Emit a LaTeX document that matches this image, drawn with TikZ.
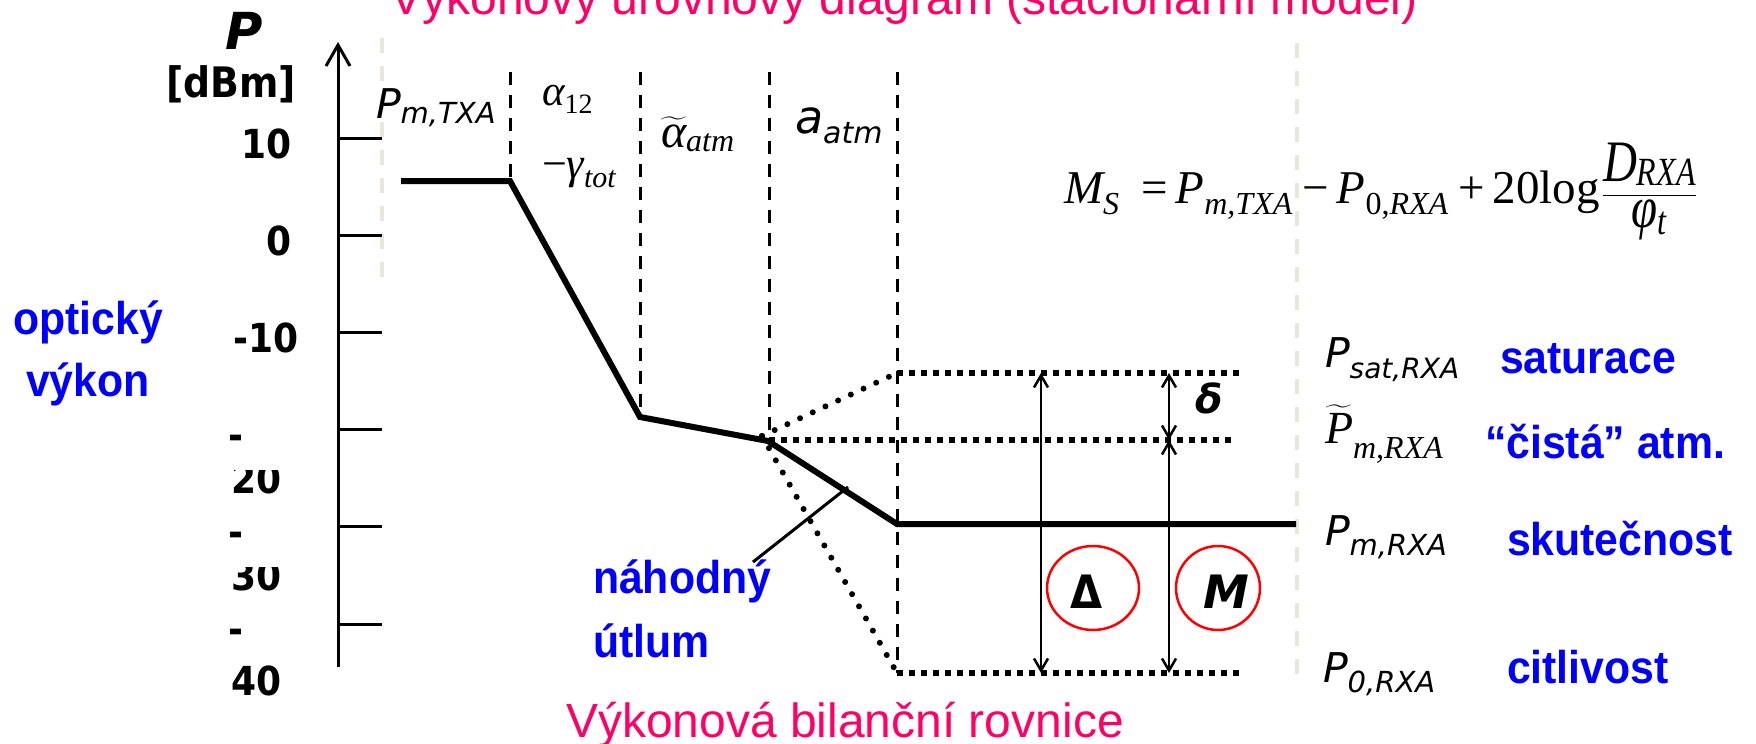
\documentclass[tikz,border=0pt]{standalone}
\usepackage{fontspec}
\usepackage{amsmath}
\usepackage{graphicx}
\usetikzlibrary{arrows.meta}
\setmainfont{Liberation Sans}
\newfontfamily\arialc{Liberation Sans}[FakeStretch=0.93]
\newfontfamily\dvb{DejaVu Sans Bold}[FakeStretch=0.9]
\newfontfamily\dvbo{DejaVu Sans Bold Oblique}
\newfontfamily\dvo{DejaVu Sans Oblique}
\newfontfamily\tnr{Liberation Serif}
\definecolor{myblue}{RGB}{0,0,255}
\definecolor{mymag}{RGB}{255,0,102}
\definecolor{lightline}{RGB}{234,230,218}
\newcommand\fsub[2]{\raisebox{-#1pt}{\fontsize{32}{32}\selectfont #2}}
\begin{document}
\begin{tikzpicture}[x=1pt,y=-1pt,
  lbl/.style={inner sep=0pt, outer sep=0pt},
  ax/.style={line width=3pt},
  heavy/.style={line width=6pt},
  vdash/.style={line width=3pt, dash pattern=on 13pt off 10pt},
  lightdash/.style={line width=4pt, draw=lightline, dash pattern=on 15pt off 13pt},
  hdot/.style={line width=6pt, dash pattern=on 6pt off 6pt},
  sdot/.style={line width=6pt, line cap=round, dash pattern=on 0pt off 14pt},
  meas/.style={line width=2.5pt, {Straight Barb[length=12pt,width=14pt]}-{Straight Barb[length=12pt,width=14pt]}},
  blu/.style={lbl, text=myblue, font={\arialc\bfseries\fontsize{46}{46}\selectfont}},
  tit/.style={lbl, text=mymag, font={\fontsize{48}{48}\selectfont}},
  tk/.style={lbl, font={\dvb\fontsize{40}{40}\selectfont}},
  circ/.style={draw=red, line width=2.5pt}]
\fill[white] (0,0) rectangle (1756,744);
\useasboundingbox (0,0) rectangle (1756,744);

% titles
\node[tit, anchor=base] (title) at (904,14) {Výkonový úrovňový diagram (stacionární model)};
\node[tit, anchor=base] (bottomtitle) at (845,737) {Výkonová bilanční rovnice};

% light dashed guides
\coordinate (g1t) at (382,38); \coordinate (g1b) at (382,279);
\coordinate (g2t) at (1297,43); \coordinate (g2b) at (1297,683);
\draw[lightdash] (g1t) -- (g1b);
\draw[lightdash] (g2t) -- (g2b);

% axis
\coordinate (axb) at (338,667); \coordinate (axt) at (338,42);
\draw[ax, -{Straight Barb[length=21pt,width=24pt]}] (axb) -- (axt);
\foreach \i/\yy in {1/138,2/235.2,3/332.4,4/429.6,5/526.8,6/624}{
  \coordinate (ta\i) at (338,\yy); \coordinate (tb\i) at (382,\yy);
  \draw[ax] (ta\i) -- (tb\i);
}
\node[lbl, anchor=base west, font={\dvbo\fontsize{51}{51}\selectfont}] (Plab) at (225,49) {P};
\node[lbl, anchor=base west, font={\dvb\fontsize{42}{42}\selectfont}] (unit) at (166,97) {[dBm]};
\node[tk, anchor=base east] (l10) at (292,158) {10};
\node[tk, anchor=base east] (l0) at (292,255) {0};
\node[tk, anchor=base east] (lm10) at (299,352) {-10};
\node[tk, anchor=base west] (m20) at (228,449) {-};
\node[tk, anchor=base west] (m30) at (228,546) {-};
\node[tk, anchor=base west] (m40) at (228,643) {-};
\begin{scope}
  \clip (200,470) rectangle (320,510);
  \node[tk, anchor=base east] (l20) at (282,493) {20};
\end{scope}
\begin{scope}
  \clip (200,567) rectangle (320,607);
  \node[tk, anchor=base east] (l30) at (282,590) {30};
\end{scope}
\node[tk, anchor=base east] (l40) at (282,695) {40};

\node[blu, anchor=base] (opt) at (88,334) {optický};
\node[blu, anchor=base] (vyk) at (88,396) {výkon};

% key points
\coordinate (v1) at (401,181); \coordinate (v2) at (510,181);
\coordinate (v3) at (640,417); \coordinate (v4) at (768,441);
\coordinate (v5) at (897,524); \coordinate (v6) at (1296,524);
\coordinate (d1) at (510,72); \coordinate (d2) at (640,72);
\coordinate (d3) at (769,72); \coordinate (d4) at (897,72);
\coordinate (d3b) at (769,441);
\coordinate (sL) at (897,373); \coordinate (sR) at (1239,373);
\coordinate (mL) at (769,440); \coordinate (mR) at (1235,440);
\coordinate (bL) at (897,673); \coordinate (bR) at (1239,673);
\coordinate (s0) at (762,436);

% dashed verticals
\draw[vdash] (d1) -- (v2);
\draw[vdash] (d2) -- (v3);
\draw[vdash] (d3) -- (d3b);
\draw[vdash] (d4) -- (bL);

% dotted levels
\draw[hdot] (sL) -- (sR);
\draw[hdot] (mL) -- (mR);
\draw[hdot] (bL) -- (bR);
\draw[sdot] (s0) -- (sL);
\draw[sdot] (s0) -- (bL);

% heavy power line
\draw[heavy] (v1) -- (v2) -- (v3) -- (v4) -- (v5) -- (v6);

% pointer
\coordinate (pp1) at (753,562); \coordinate (pp2) at (848,487);
\draw[line width=3pt] (pp1) -- (pp2);
\node[blu, anchor=base west] (nah) at (593,593) {náhodný};
\node[blu, anchor=base west] (utl) at (593,657) {útlum};

% measurement arrows
\coordinate (A1t) at (1041,373); \coordinate (A1b) at (1041,673);
\coordinate (A2t) at (1169,373); \coordinate (A2m) at (1169,440); \coordinate (A2b) at (1169,673);
\draw[meas] (A1t) -- (A1b);
\draw[meas] (A2t) -- (A2m);
\draw[meas] (A2m) -- (A2b);
\node[lbl, anchor=base west, font={\dvbo\fontsize{40}{40}\selectfont}] (del) at (1195,413) {δ};

\coordinate (c1) at (1093,588); \coordinate (c2) at (1218,588);
\draw[circ] (c1) ellipse [x radius=46pt, y radius=42pt];
\draw[circ] (c2) ellipse [x radius=42pt, y radius=42pt];
\node[lbl, font={\dvb\fontsize{46}{46}\selectfont}] (Del) at (1087,592) {Δ};
\node[lbl, font={\dvbo\fontsize{46}{46}\selectfont}] (Mm) at (1226,592) {M};

% column labels
\node[lbl, anchor=base west] (ptxa) at (376,118) {{\dvo\fontsize{41}{41}\selectfont P}\raisebox{-5pt}{\dvo\fontsize{29}{29}\selectfont m,TXA}};
\node[lbl, anchor=base west] (a12) at (542,105) {{\tnr\itshape\fontsize{43}{43}\selectfont α}\raisebox{-8pt}{\tnr\fontsize{28}{28}\selectfont 12}};
\node[lbl, anchor=base west] (gtot) at (542,178) {{\tnr\fontsize{44}{44}\selectfont −}{\tnr\itshape\fontsize{44}{44}\selectfont γ}\raisebox{-9pt}{\tnr\itshape\fontsize{30}{30}\selectfont tot}};
\node[lbl, anchor=base west] (aatm) at (661,147) {\fontsize{48}{48}\selectfont$\widetilde{\text{\tnr\itshape α}}$\raisebox{-4pt}{\tnr\itshape\fontsize{32}{32}\selectfont atm}};
\node[lbl, anchor=base west] (aatm2) at (795,133) {{\dvo\fontsize{46}{46}\selectfont a}\raisebox{-10pt}{\dvo\fontsize{30}{30}\selectfont atm}};

% formula
\node[lbl, anchor=base west] (ms) at (1064,203) {\tnr\fontsize{47}{47}\selectfont
  {\itshape M}\fsub{11}{\itshape S}\hspace{22pt}=\hspace{8pt}{\itshape P}\fsub{11}{\itshape m,TXA}\hspace{10pt}−\hspace{8pt}{\itshape P}\fsub{11}{0,\itshape RXA}\hspace{10pt}+\hspace{8pt}20log\hspace{2pt}\scalebox{1}[1.25]{$\dfrac{\mbox{\itshape D\fsub{3}{RXA}}}{\mbox{\itshape φ\fsub{6}{t}}}$}};

% right labels
\node[lbl, anchor=base west] (psat) at (1325,367) {{\dvo\fontsize{41}{41}\selectfont P}\raisebox{-11pt}{\dvo\fontsize{28}{28}\selectfont sat,RXA}};
\node[lbl, anchor=base west] (ptil) at (1325,443) {\fontsize{46}{46}\selectfont$\widetilde{\text{\tnr\itshape P}}$\raisebox{-15pt}{\tnr\itshape\fontsize{32}{32}\selectfont m,RXA}};
\node[lbl, anchor=base west] (pmrxa) at (1325,545) {{\dvo\fontsize{41}{41}\selectfont P}\raisebox{-10pt}{\dvo\fontsize{29}{29}\selectfont m,RXA}};
\node[lbl, anchor=base west] (p0rxa) at (1323,682) {{\dvo\fontsize{41}{41}\selectfont P}\raisebox{-10pt}{\dvo\fontsize{29}{29}\selectfont 0,RXA}};
\node[blu, anchor=base west] (sat) at (1500,373) {saturace};
\node[blu, anchor=base west] (cist) at (1485,458) {“čistá” atm.};
\node[blu, anchor=base west] (skut) at (1507,555) {skutečnost};
\node[blu, anchor=base west] (citl) at (1507,683) {citlivost};
\end{tikzpicture}
\end{document}
